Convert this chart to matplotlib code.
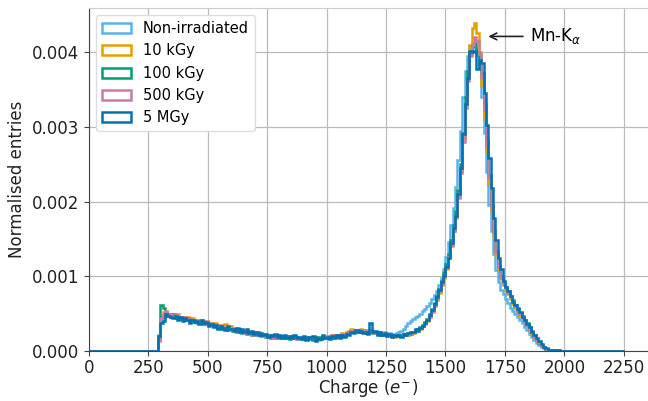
import matplotlib
matplotlib.use('Agg')
import matplotlib.pyplot as plt
import numpy as np
from matplotlib.ticker import FormatStrFormatter

# bin edges (charge in e-): one empty bin below threshold, 10 e- bins 290-2000, one empty bin above
edges = np.concatenate(([0], np.arange(290, 2010, 10), [2250]))

# normalised entries per bin, in units of 1e-5
non_irr = [
    22, 42, 47, 49, 50, 45, 48, 44, 46, 43,
    44, 41, 43, 40, 39, 42, 38, 40, 37, 39,
    36, 35, 37, 33, 34, 32, 33, 30, 31, 29,
    30, 28, 29, 27, 28, 26, 27, 25, 26, 24,
    25, 23, 24, 22, 23, 21, 22, 20, 21, 20,
    21, 19, 20, 19, 20, 18, 19, 18, 19, 17,
    18, 17, 18, 17, 19, 16, 18, 17, 18, 17,
    18, 17, 19, 18, 20, 19, 21, 20, 22, 23,
    24, 25, 26, 27, 26, 28, 27, 26, 27, 28,
    27, 26, 25, 26, 24, 25, 23, 24, 22, 23,
    24, 25, 27, 30, 34, 37, 40, 43, 45, 47,
    49, 53, 56, 60, 64, 70, 75, 80, 88, 98,
    110, 126, 146, 168, 192, 220, 255, 295, 340, 375,
    395, 408, 412, 405, 396, 380, 340, 292, 240, 196,
    160, 130, 108, 92, 82, 76, 70, 64, 58, 54,
    50, 46, 41, 37, 32, 28, 23, 19, 15, 11,
    8, 6, 4, 3, 2, 1, 1, 1, 0, 0,
    0]
kgy10 = [
    16, 46, 52, 49, 48, 50, 45, 47, 49, 44,
    46, 43, 45, 41, 44, 40, 42, 39, 41, 38,
    40, 36, 38, 35, 37, 34, 35, 32, 36, 31,
    33, 30, 31, 28, 30, 27, 28, 26, 27, 25,
    26, 24, 25, 22, 23, 21, 22, 20, 22, 19,
    21, 19, 20, 18, 19, 17, 20, 18, 19, 17,
    18, 16, 19, 17, 18, 16, 19, 15, 18, 17,
    18, 20, 17, 21, 19, 22, 20, 24, 22, 25,
    27, 29, 26, 28, 27, 30, 26, 28, 25, 27,
    26, 24, 25, 22, 24, 21, 23, 20, 22, 19,
    21, 20, 22, 21, 23, 22, 25, 24, 27, 29,
    30, 33, 36, 40, 45, 52, 60, 68, 78, 88,
    98, 110, 124, 140, 160, 178, 205, 240, 285, 330,
    372, 410, 432, 439, 425, 400, 355, 310, 266, 224,
    186, 154, 128, 108, 96, 88, 82, 76, 70, 63,
    58, 52, 47, 44, 39, 33, 28, 23, 18, 14,
    10, 7, 5, 3, 2, 2, 1, 1, 1, 0,
    0]
kgy100 = [
    18, 61, 58, 52, 49, 47, 50, 45, 46, 43,
    44, 42, 44, 40, 41, 39, 40, 37, 39, 36,
    38, 35, 36, 33, 34, 31, 33, 29, 31, 28,
    30, 27, 29, 26, 27, 24, 26, 23, 25, 22,
    24, 21, 23, 20, 22, 19, 21, 18, 20, 17,
    19, 18, 20, 17, 19, 16, 18, 17, 19, 16,
    18, 17, 19, 16, 18, 15, 17, 19, 16, 18,
    17, 19, 18, 20, 19, 21, 20, 22, 21, 24,
    25, 26, 27, 26, 28, 25, 27, 24, 26, 28,
    24, 25, 23, 24, 22, 23, 21, 22, 20, 21,
    20, 22, 21, 23, 22, 24, 23, 26, 28, 30,
    32, 35, 39, 43, 49, 56, 64, 73, 83, 94,
    104, 116, 130, 148, 168, 188, 215, 250, 292, 340,
    375, 398, 408, 412, 400, 392, 372, 330, 282, 236,
    196, 160, 134, 114, 100, 92, 86, 80, 74, 68,
    62, 57, 51, 47, 42, 37, 32, 27, 21, 16,
    11, 8, 5, 3, 2, 2, 1, 1, 0, 0,
    0]
kgy500 = [
    14, 44, 48, 53, 47, 49, 46, 48, 44, 46,
    43, 45, 42, 44, 40, 42, 39, 41, 38, 40,
    37, 38, 35, 36, 33, 35, 31, 33, 30, 31,
    29, 30, 27, 29, 26, 27, 24, 26, 23, 25,
    22, 24, 21, 23, 20, 22, 19, 21, 18, 20,
    18, 20, 17, 19, 18, 20, 17, 19, 16, 18,
    17, 19, 16, 18, 17, 19, 16, 18, 17, 19,
    18, 20, 19, 21, 20, 22, 21, 23, 22, 24,
    25, 27, 26, 28, 27, 26, 28, 25, 27, 26,
    25, 24, 26, 23, 24, 22, 23, 21, 22, 20,
    21, 20, 22, 21, 22, 23, 24, 26, 27, 29,
    31, 34, 37, 41, 46, 53, 61, 70, 80, 90,
    100, 112, 126, 142, 160, 180, 206, 238, 280, 325,
    362, 395, 410, 420, 415, 398, 365, 322, 275, 232,
    192, 158, 132, 112, 98, 90, 84, 78, 72, 65,
    60, 54, 49, 45, 40, 35, 30, 25, 19, 15,
    11, 7, 5, 3, 2, 1, 1, 1, 0, 0,
    0]
mgy5 = [
    20, 38, 40, 50, 47, 46, 44, 47, 42, 45,
    40, 44, 41, 38, 42, 39, 40, 36, 41, 37,
    39, 33, 36, 32, 35, 30, 34, 31, 28, 33,
    29, 30, 27, 31, 26, 29, 25, 30, 24, 27,
    23, 26, 22, 24, 21, 23, 19, 22, 20, 23,
    19, 21, 18, 22, 17, 20, 18, 21, 17, 19,
    16, 20, 15, 19, 17, 20, 14, 18, 16, 21,
    17, 19, 16, 20, 18, 22, 17, 21, 19, 23,
    22, 26, 24, 28, 25, 27, 24, 26, 23, 38,
    25, 27, 22, 26, 21, 24, 20, 23, 19, 22,
    20, 21, 19, 23, 21, 24, 26, 25, 29, 27,
    31, 33, 38, 42, 48, 55, 63, 72, 82, 92,
    100, 112, 125, 145, 165, 180, 210, 245, 290, 330,
    365, 402, 400, 401, 377, 390, 386, 345, 302, 258,
    218, 178, 148, 124, 110, 94, 86, 80, 74, 66,
    62, 56, 52, 46, 42, 36, 32, 26, 22, 17,
    13, 9, 6, 4, 2, 2, 1, 1, 1, 0,
    0]

labels = ['Non-irradiated', '10 kGy', '100 kGy', '500 kGy', '5 MGy']
series = [non_irr, kgy10, kgy100, kgy500, mgy5]
colors = ['#56B4E9', '#E69F00', '#009E73', '#CC79A7', '#0072B2']

fig = plt.figure(figsize=(6.48, 4.01), dpi=100)
ax = fig.add_axes([0.1373, 0.1247, 0.8627, 0.8553])

centres = edges[:-1]
for vals, lab, col in zip(series, labels, colors):
    w = np.concatenate(([0], np.array(vals) * 1e-5, [0]))
    ax.hist(centres, bins=edges, weights=w, histtype='step', color=col,
            lw=1.8, label=lab)

ax.annotate(r'Mn-K$_\alpha$', xy=(1680, 0.00421), xytext=(1855, 0.00421),
            fontsize=12, va='center', ha='left',
            arrowprops=dict(arrowstyle='->', color='#222222', lw=1.2,
                            shrinkA=3, shrinkB=0))

ax.set_xlim(0, 2352)
ax.set_ylim(0, 0.00459)
ax.set_xticks(np.arange(0, 2251, 250))
ax.set_yticks([0, 0.001, 0.002, 0.003, 0.004])
ax.yaxis.set_major_formatter(FormatStrFormatter('%.3f'))
ax.tick_params(labelsize=12, length=3.5, color='#444444', labelcolor='#222222')
ax.tick_params(axis='x', pad=2.5)
ax.grid(True, color='#bbbbbb', lw=0.9)
ax.set_axisbelow(True)
for s in ['left', 'bottom']:
    ax.spines[s].set_color('#444444')
ax.spines['top'].set_color('#cccccc')
ax.spines['right'].set_visible(False)

ax.set_xlabel('Charge ($e^{-}$)', fontsize=12, color='#222222', labelpad=0)
ax.set_ylabel('Normalised entries', fontsize=12, color='#222222')
ax.legend(loc='upper left', fontsize=10.5, framealpha=1.0, edgecolor='#dddddd')

fig.savefig('out.png', dpi=100)
